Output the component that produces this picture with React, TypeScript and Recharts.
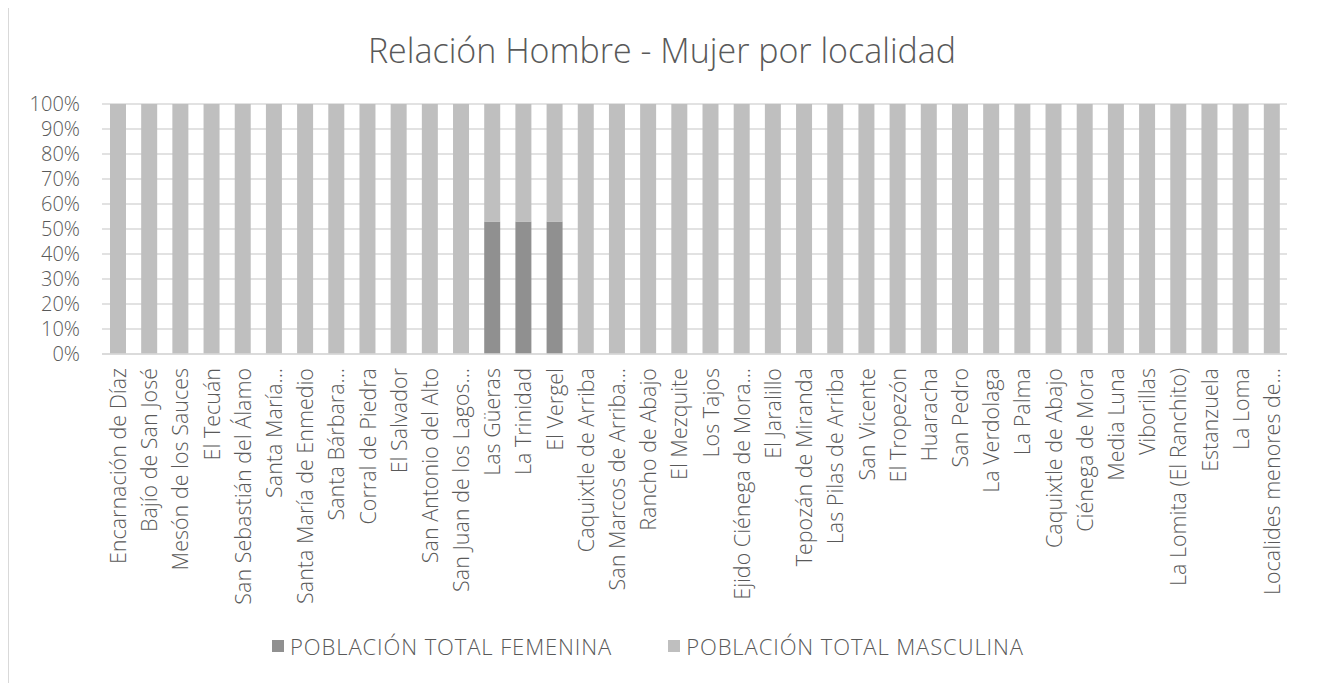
import React from "react";
import { Bar, BarChart, CartesianGrid, Legend, XAxis, YAxis } from "recharts";

const localidades = [
  "Encarnación de Díaz",
  "Bajío de San José",
  "Mesón de los Sauces",
  "El Tecuán",
  "San Sebastián del Álamo",
  "Santa María...",
  "Santa María de Enmedio",
  "Santa Bárbara...",
  "Corral de Piedra",
  "El Salvador",
  "San Antonio del Alto",
  "San Juan de los Lagos...",
  "Las Güeras",
  "La Trinidad",
  "El Vergel",
  "Caquixtle de Arriba",
  "San Marcos de Arriba...",
  "Rancho de Abajo",
  "El Mezquite",
  "Los Tajos",
  "Ejido Ciénega de Mora...",
  "El Jaralillo",
  "Tepozán de Miranda",
  "Las Pilas de Arriba",
  "San Vicente",
  "El Tropezón",
  "Huaracha",
  "San Pedro",
  "La Verdolaga",
  "La Palma",
  "Caquixtle de Abajo",
  "Ciénega de Mora",
  "Media Luna",
  "Viborillas",
  "La Lomita (El Ranchito)",
  "Estanzuela",
  "La Loma",
  "Localides menores de...",
];

// porcentaje de cada localidad
const femenina = [
  0, 0, 0, 0, 0, 0, 0, 0, 0, 0, 0, 0, 53, 53, 53, 0, 0, 0, 0,
  0, 0, 0, 0, 0, 0, 0, 0, 0, 0, 0, 0, 0, 0, 0, 0, 0, 0, 0,
];
const masculina = [
  100, 100, 100, 100, 100, 100, 100, 100, 100, 100, 100, 100, 47, 47, 47, 100, 100, 100, 100,
  100, 100, 100, 100, 100, 100, 100, 100, 100, 100, 100, 100, 100, 100, 100, 100, 100, 100, 100,
];

const yTicks = [0, 10, 20, 30, 40, 50, 60, 70, 80, 90, 100];

const data = localidades.map((name, i) => ({
  name,
  femenina: femenina[i],
  masculina: masculina[i],
}));

const FONT = "'Open Sans', 'Noto Sans', sans-serif";
const TEXT = "#595959";
const FEM = "#909090";
const MAS = "#bfbfbf";

const XTick = ({ x, y, payload }: any) => (
  <text
    x={x}
    y={y}
    transform={`rotate(-90, ${x}, ${y})`}
    textAnchor="end"
    dominantBaseline="central"
    fill={TEXT}
    fontSize={21.5}
    fontFamily={FONT}
    fontWeight={300}
  >
    {payload.value}
  </text>
);

const LegendContent = () => {
  const items = [
    { label: "POBLACIÓN TOTAL FEMENINA", color: FEM },
    { label: "POBLACIÓN TOTAL MASCULINA", color: MAS },
  ];
  return (
    <div style={{ display: "flex", justifyContent: "center", gap: 56, height: 30, alignItems: "center" }}>
      {items.map((it) => (
        <div key={it.label} style={{ display: "flex", alignItems: "center" }}>
          <span style={{ width: 12, height: 12, background: it.color, marginRight: 6, display: "inline-block" }} />
          <span style={{ fontFamily: FONT, fontWeight: 300, fontSize: 22, letterSpacing: 0.9, color: TEXT }}>
            {it.label}
          </span>
        </div>
      ))}
    </div>
  );
};

const App = () => {
  return (
    <div
      style={{
        position: "relative",
        width: 1308,
        height: 675,
        boxSizing: "border-box",
        borderLeft: "1px solid #d9d9d9",
        borderRight: "1px solid #d9d9d9",
        background: "#fff",
      }}
    >
      <div
        style={{
          position: "absolute",
          top: 22,
          left: 0,
          right: 0,
          textAlign: "center",
          fontFamily: FONT,
          fontWeight: 300,
          fontSize: 34,
          lineHeight: "40px",
          color: TEXT,
        }}
      >
        Relación Hombre - Mujer por localidad
      </div>
      <BarChart
        width={1306}
        height={675}
        data={data}
        margin={{ top: 96, right: 28, left: 0, bottom: 10 }}
      >
        <CartesianGrid vertical={false} stroke="#d9d9d9" strokeWidth={1.5} />
        <XAxis
          dataKey="name"
          interval={0}
          height={289}
          tickLine={false}
          tickMargin={8}
          axisLine={{ stroke: "#d9d9d9", strokeWidth: 1.5 }}
          tick={<XTick />}
        />
        <YAxis
          width={93}
          domain={[0, 100]}
          ticks={yTicks}
          interval={0}
          tickFormatter={(v: number) => `${v}%`}
          axisLine={false}
          tickLine={false}
          tickMargin={16}
          tick={{ fill: TEXT, fontSize: 20, fontFamily: FONT, fontWeight: 300 }}
        />
        <Legend content={<LegendContent />} wrapperStyle={{ top: 623 }} />
        <Bar dataKey="femenina" stackId="a" fill={FEM} barSize={16} isAnimationActive={false} />
        <Bar dataKey="masculina" stackId="a" fill={MAS} barSize={16} isAnimationActive={false} />
      </BarChart>
    </div>
  );
};

export default App;
